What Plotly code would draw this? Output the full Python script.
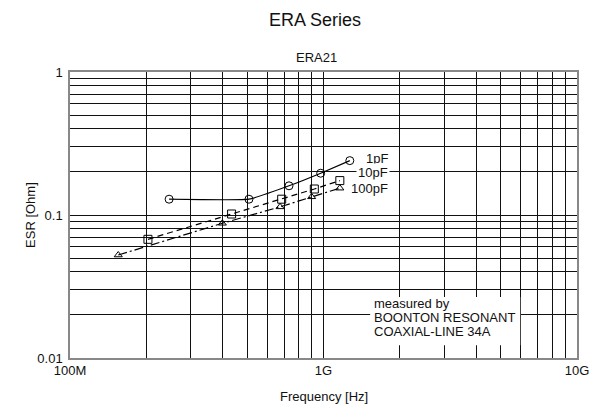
import plotly.graph_objects as go

# Data (frequency in Hz, ESR in Ohm)
freq_1pF = [2.46e8, 5.08e8, 7.31e8, 9.75e8, 1.27e9]
esr_1pF = [0.129, 0.129, 0.160, 0.196, 0.240]

freq_10pF = [2.03e8, 4.34e8, 6.84e8, 9.20e8, 1.16e9]
esr_10pF = [0.0676, 0.1016, 0.129, 0.152, 0.174]

freq_100pF = [1.55e8, 3.99e8, 6.74e8, 8.98e8, 1.16e9]
esr_100pF = [0.0525, 0.0875, 0.114, 0.134, 0.154]

x_tick_labels = ["100M", "1G", "10G"]
y_tick_labels = ["0.01", "0.1", "1"]
series_names = ["1pF", "10pF", "100pF"]

FONT = "Liberation Sans, Arial, sans-serif"
TXT = "#111"

# grid values at every 1..9 multiple
x_vals, x_text = [], []
for i, d in enumerate([1e8, 1e9]):
    for k in range(1, 10):
        x_vals.append(k * d)
        x_text.append(x_tick_labels[i] if k == 1 else "")
x_vals.append(1e10)
x_text.append(x_tick_labels[2])

y_vals, y_text = [], []
for i, d in enumerate([0.01, 0.1]):
    for k in range(1, 10):
        y_vals.append(k * d)
        y_text.append(y_tick_labels[i] if k == 1 else "")
y_vals.append(1.0)
y_text.append(y_tick_labels[2])

fig = go.Figure()
fig.add_trace(go.Scatter(
    x=freq_1pF, y=esr_1pF, mode="lines+markers", name=series_names[0],
    line=dict(color="black", width=1.2, shape="spline", smoothing=0.3),
    marker=dict(symbol="circle-open", size=8, color="black", line=dict(width=1)),
))
fig.add_trace(go.Scatter(
    x=freq_10pF, y=esr_10pF, mode="lines+markers", name=series_names[1],
    line=dict(color="black", width=1.2, dash="6px,4px"),
    marker=dict(symbol="square-open", size=8, color="black", line=dict(width=1)),
))
fig.add_trace(go.Scatter(
    x=freq_100pF, y=esr_100pF, mode="lines+markers", name=series_names[2],
    line=dict(color="black", width=1.2, dash="9px,3px,2px,3px"),
    marker=dict(symbol="triangle-up-open", size=7, color="black", line=dict(width=1)),
))

axis_common = dict(
    showgrid=True, gridcolor="#111", gridwidth=1,
    showline=True, mirror=True, linecolor="#888", linewidth=1.5,
    ticks="", zeroline=False,
    tickfont=dict(family=FONT, size=13, color=TXT),
)
fig.update_xaxes(type="log", range=[8, 10], tickmode="array",
                 tickvals=x_vals, ticktext=x_text, **axis_common)
fig.update_yaxes(type="log", range=[-2, 0], tickmode="array",
                 tickvals=y_vals, ticktext=y_text, ticklabelstandoff=3, **axis_common)


def txt(text, x, y, size=13, xanchor="center", yanchor="middle", **kw):
    return dict(text=text, x=x, y=y, xref="paper", yref="paper",
                xanchor=xanchor, yanchor=yanchor, showarrow=False,
                font=dict(family=FONT, size=size, color=TXT), **kw)


ann = [
    txt("ERA Series", 0.483, 1.182, size=18),
    txt("ERA21", 0.487, 1.049),
    txt("Frequency [Hz]", 0.5, -0.133),
    txt("ESR [Ohm]", -0.079, 0.5, textangle=-90),
]
for name, yy in zip(series_names, [0.699, 0.647, 0.591]):
    ann.append(txt(name, 0.631, yy, xanchor="right", bgcolor="white", borderpad=1))
for line, yy in zip(["measured by", "BOONTON RESONANT", "COAXIAL-LINE 34A"],
                    [0.189, 0.140, 0.091]):
    ann.append(txt(line, 0.596, yy, xanchor="left"))

fig.update_layout(
    width=601, height=404,
    margin=dict(l=70, r=24, t=72, b=46),
    paper_bgcolor="white", plot_bgcolor="white",
    showlegend=False,
    annotations=ann,
    shapes=[dict(type="rect", xref="paper", yref="paper",
                 x0=0.592, x1=0.888, y0=0.045, y1=0.213,
                 fillcolor="white", line=dict(width=0), layer="above")],
)

fig.write_html("out.html", config={"displayModeBar": False},
               post_script="document.body.style.margin='0';")
